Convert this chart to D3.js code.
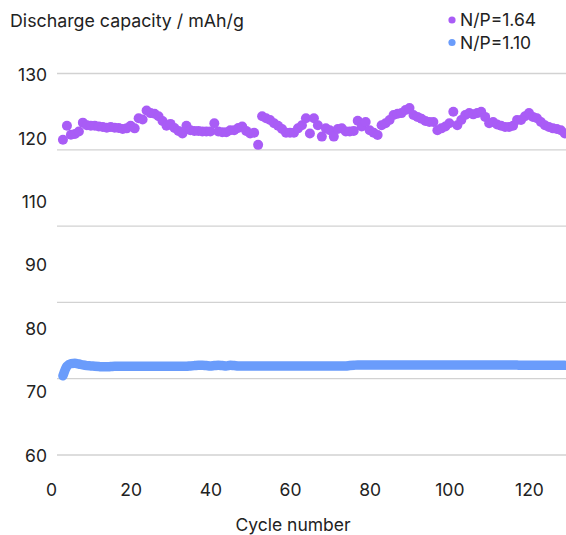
<!DOCTYPE html>
<html><head><meta charset="utf-8">
<script src="https://cdn.jsdelivr.net/npm/d3@7"></script>
<style>
body{margin:0;background:#fff}
text{font-family:Inter,"Noto Sans",sans-serif;fill:#222}
</style></head>
<body><svg id="c" width="566" height="535"></svg>
<script>
const cycleStart = 3;
const np164 = [
119.8,122.0,120.6,120.7,121.1,122.5,122.1,122.0,122.0,121.9,
121.8,121.7,121.8,121.7,121.65,121.5,121.6,122.0,121.6,123.2,
123.0,124.4,124.0,123.9,123.5,122.75,122.0,122.3,121.65,121.2,
120.8,122.0,121.3,121.2,121.2,121.1,121.1,121.1,122.4,121.1,
121.0,121.0,121.3,121.3,121.65,121.9,121.2,120.8,120.9,119.0,
123.5,123.2,122.9,122.4,122.0,121.5,120.9,120.9,120.9,121.6,
122.1,123.2,120.8,123.2,122.1,120.3,121.6,121.3,120.3,121.5,
121.6,121.1,121.1,121.2,122.8,121.9,122.6,121.3,120.9,120.55,
122.1,122.4,122.9,123.7,123.9,124.0,124.5,124.8,123.7,123.4,
123.1,122.75,122.6,122.6,121.3,121.6,121.9,122.4,124.2,122.1,
122.9,123.7,124.0,123.8,124.0,124.2,123.4,122.4,122.6,122.2,
122.0,121.8,121.8,122.0,122.9,122.9,123.5,124.0,123.4,123.2,
122.6,122.1,121.8,121.6,121.5,121.3,120.8];
const np110 = [
72.6,74.1,74.5,74.55,74.45,74.3,74.2,74.15,74.1,74.05,
74.0,74.0,74.05,74.1,74.1,74.1,74.1,74.1,74.1,74.1,
74.1,74.1,74.1,74.1,74.1,74.1,74.1,74.1,74.1,74.1,
74.1,74.1,74.15,74.2,74.25,74.25,74.2,74.15,74.2,74.25,
74.2,74.15,74.25,74.2,74.15,74.15,74.15,74.15,74.15,74.15,
74.15,74.15,74.15,74.15,74.15,74.15,74.15,74.15,74.15,74.15,
74.15,74.15,74.15,74.15,74.15,74.15,74.15,74.15,74.15,74.15,
74.15,74.15,74.2,74.25,74.3,74.3,74.3,74.3,74.3,74.3,
74.3,74.3,74.3,74.3,74.3,74.3,74.3,74.3,74.3,74.3,
74.3,74.3,74.3,74.3,74.3,74.3,74.3,74.3,74.3,74.3,
74.3,74.3,74.3,74.3,74.3,74.3,74.3,74.3,74.3,74.3,
74.3,74.3,74.3,74.3,74.28,74.25,74.25,74.25,74.25,74.25,
74.25,74.25,74.25,74.25,74.25,74.25,74.25];
const yTicks = [60,70,80,90,110,120,130];
const xTicks = [0,20,40,60,80,100,120];
const seriesNames = ["N/P=1.64","N/P=1.10"];
const colors = ["#a95cf6","#6a9cfb"];
const gridCount = 6;

const svg = d3.select("#c");
const x = d3.scaleLinear().domain([0,120]).range([51,529]);
// broken axis: 100 is skipped
const y = d3.scaleLinear().domain([60,90,110,130]).range([456,265,202,75]);
const g = d3.scaleLinear().domain([0,gridCount-1]).range([455,73.5]);

svg.append("g").selectAll("line").data(d3.range(gridCount)).join("line")
  .attr("x1",57).attr("x2",566).attr("y1",d=>g(d)).attr("y2",d=>g(d))
  .attr("stroke","#d2d2d2").attr("stroke-width",1.3);

const yAx = svg.append("g").attr("transform","translate(47,0)")
  .call(d3.axisLeft(y).tickValues(yTicks).tickSize(0).tickPadding(0).tickFormat(d3.format("d")));
yAx.select(".domain").remove();
yAx.selectAll("text").style("font-size","17.5px").style("font-family","Inter").attr("fill","#222");

const xAx = svg.append("g").attr("transform","translate(0,484)")
  .call(d3.axisBottom(x).tickValues(xTicks).tickSize(0).tickPadding(0));
xAx.select(".domain").remove();
xAx.selectAll("text").style("font-size","17.5px").style("font-family","Inter").attr("fill","#222");

svg.append("text").attr("x",10).attr("y",27).style("font-size","17.8px").text("Discharge capacity / mAh/g");
svg.append("text").attr("x",293).attr("y",531).attr("text-anchor","middle").style("font-size","17.5px").text("Cycle number");

const cyc = (i)=>cycleStart+i;
const line = d3.line().x((d,i)=>x(cyc(i))).y(d=>y(d)).curve(d3.curveMonotoneX);
svg.append("path").attr("d",line(np110)).attr("fill","none")
  .attr("stroke",colors[1]).attr("stroke-width",9.5).attr("stroke-linecap","round").attr("stroke-linejoin","round");

svg.append("g").selectAll("circle").data(np164).join("circle")
  .attr("cx",(d,i)=>x(cyc(i))).attr("cy",d=>y(d)).attr("r",5).attr("fill",colors[0]);

const lg = svg.append("g").selectAll("g").data(seriesNames).join("g")
  .attr("transform",(d,i)=>`translate(452,${20+i*22.5})`);
lg.append("circle").attr("r",3.6).attr("fill",(d,i)=>colors[i]);
lg.append("text").attr("x",8).attr("dy","0.36em").style("font-size","17.5px").text(d=>d);
</script></body></html>
